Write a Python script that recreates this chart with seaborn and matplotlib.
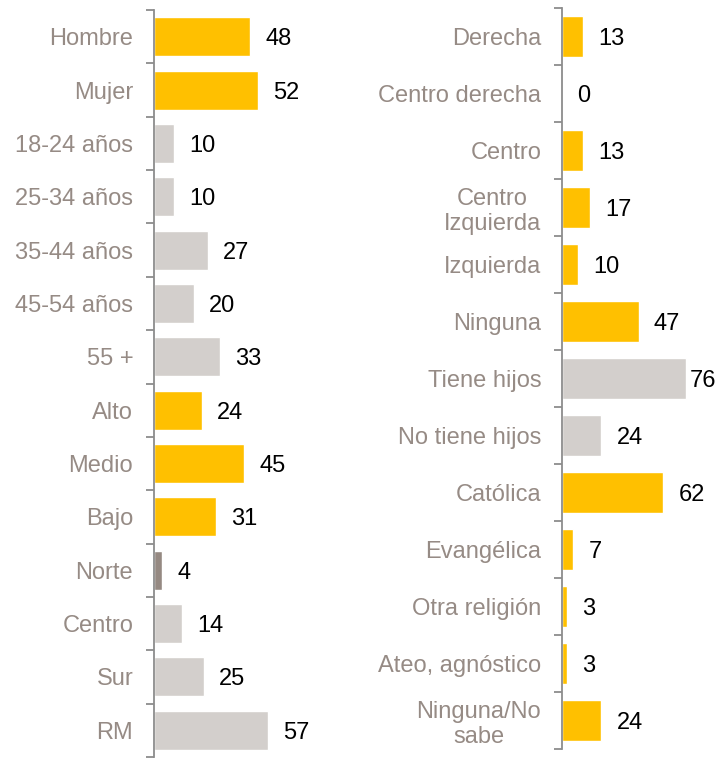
import matplotlib
matplotlib.use("Agg")
import matplotlib.pyplot as plt
import seaborn as sns
import pandas as pd

sns.set_style("white")
plt.rcParams['font.family'] = ['Liberation Sans', 'DejaVu Sans']

left_cats = ["Hombre", "Mujer", "18-24 años", "25-34 años", "35-44 años", "45-54 años",
             "55 +", "Alto", "Medio", "Bajo", "Norte", "Centro", "Sur", "RM"]
left_vals = [48, 52, 10, 10, 27, 20, 33, 24, 45, 31, 4, 14, 25, 57]
left_groups = ["g", "g", "l", "l", "l", "l", "l", "g", "g", "g", "d", "l", "l", "l"]

right_cats = ["Derecha", "Centro derecha", "Centro", "Centro\nIzquierda", "Izquierda",
              "Ninguna", "Tiene hijos", "No tiene hijos", "Católica", "Evangélica",
              "Otra religión", "Ateo, agnóstico", "Ninguna/No\nsabe"]
right_vals = [13, 0, 13, 17, 10, 47, 76, 24, 62, 7, 3, 3, 24]
right_groups = ["g", "g", "g", "g", "g", "g", "l", "l", "g", "g", "g", "g", "g"]

COL = {"g": "#FFC000", "l": "#D3CFCC", "d": "#958982"}
LABEL_COL = "#968B85"
SPINE_COL = "#8C8C8C"
FS = 17

fig = plt.figure(figsize=(7.17, 7.58), dpi=100)
H = 758.0

def draw(ax, cats, vals, groups, xmax):
    df = pd.DataFrame({"cat": cats, "val": vals, "grp": groups})
    pal = {c: COL[g] for c, g in zip(cats, groups)}
    sns.barplot(data=df, y="cat", x="val", hue="cat", palette=pal, orient="h",
                width=0.73, legend=False, ax=ax, saturation=1)
    for c in ax.containers:
        v = c.datavalues[0]
        pad = 3 if v > 70 else 11
        texts = ax.bar_label(c, fmt="%d", padding=pad, fontsize=FS, color="black")
        for t in texts:
            t.set_va("center_baseline")
    n = len(cats)
    ax.set_xlim(0, xmax)
    ax.set_ylim(n - 0.5, -0.5)
    ax.set_xlabel("")
    ax.set_ylabel("")
    ax.set_xticks([])
    ax.set_yticks([i - 0.5 for i in range(n + 1)])
    ax.set_yticklabels([])
    ax.tick_params(axis="y", which="major", length=6, width=1.3, color=SPINE_COL,
                   direction="out", left=True)
    ax.set_yticks(list(range(n)), minor=True)
    ax.set_yticklabels(cats, minor=True)
    ax.tick_params(axis="y", which="minor", length=0, pad=15, labelsize=FS,
                   labelcolor=LABEL_COL)
    for lab in ax.get_yticklabels(minor=True):
        lab.set_multialignment("center")
    for s in ["top", "right", "bottom"]:
        ax.spines[s].set_visible(False)
    ax.spines["left"].set_color(SPINE_COL)
    ax.spines["left"].set_linewidth(1.3)
    ax.set_facecolor("none")

ax1 = fig.add_axes([154 / 717, 1 - 757 / H, 206 / 717, (757 - 10) / H])
draw(ax1, left_cats, left_vals, left_groups, 103)

ax2 = fig.add_axes([562 / 717, 1 - 749 / H, 150 / 717, (749 - 8) / H])
draw(ax2, right_cats, right_vals, right_groups, 92)

fig.savefig("out.png", dpi=100)
